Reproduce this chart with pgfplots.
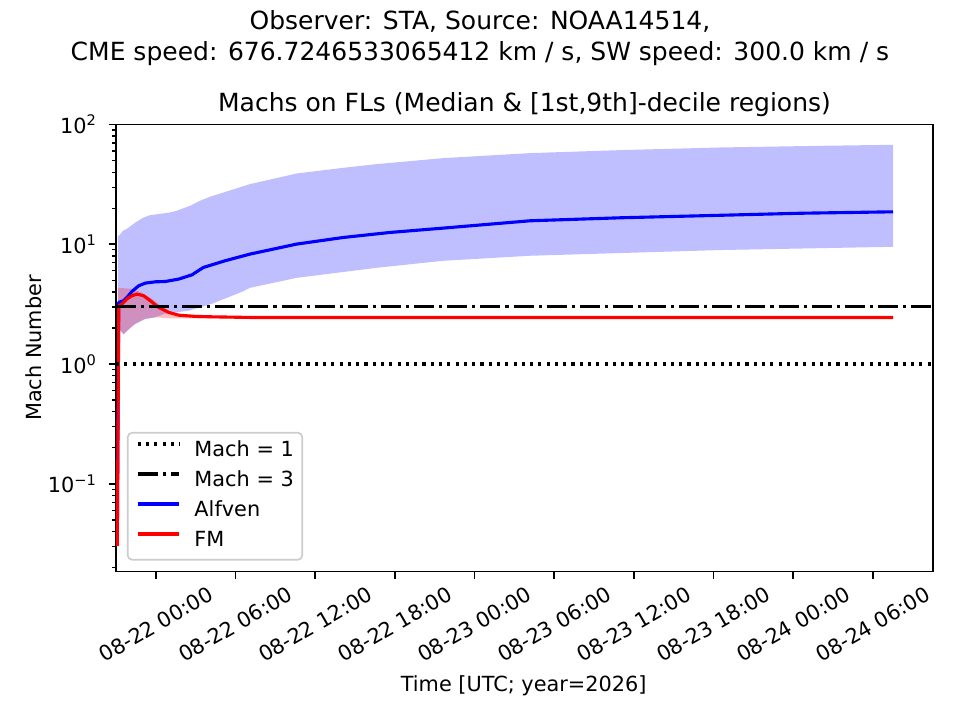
\documentclass[border=0pt]{standalone}
\usepackage{pgfplots}
\pgfplotsset{compat=1.18}
\usepackage{fontspec}
\setmainfont{DejaVu Sans}
\definecolor{mplblue}{RGB}{0,0,255}
\definecolor{mplred}{RGB}{255,0,0}
\begin{document}
\begin{tikzpicture}
\path[use as bounding box] (-55.68pt,-71.28pt) rectangle (405.12pt,274.32pt);
\begin{axis}[
  at={(0pt,0pt)}, anchor=south west,
  scale only axis, width=392.16pt, height=214.56pt,
  ymode=log, log basis y=10,
  xmin=-3.01, xmax=58.52, ymin=0.01854, ymax=100,
  axis line style={line width=0.8pt, black},
  tick align=outside, tick pos=left,
  major tick length=3.5pt, minor tick length=2pt,
  tick style={black, line width=0.8pt},
  minor tick style={black, line width=0.6pt},
  xtick={0,6,12,18,24,30,36,42,48,54},
  xticklabels={08-22 00:00,08-22 06:00,08-22 12:00,08-22 18:00,08-23 00:00,08-23 06:00,08-23 12:00,08-23 18:00,08-24 00:00,08-24 06:00},
  xticklabel style={font=\fontsize{10}{12}\selectfont, yshift=-21.9pt, rotate=30, anchor=center, inner sep=0pt},
  minor xtick={},
  ytick={0.1,1,10,100},
  yticklabels={10\textsuperscript{−1},10\textsuperscript{0},10\textsuperscript{1},10\textsuperscript{2}},
  minor ytick={0.02,0.03,0.04,0.05,0.06,0.07,0.08,0.09,0.2,0.3,0.4,0.5,0.6,0.7,0.8,0.9,2,3,4,5,6,7,8,9,20,30,40,50,60,70,80,90},
  yticklabel style={font=\fontsize{10}{12}\selectfont, anchor=east, inner sep=0pt, xshift=-5.5pt},
  legend image code/.code={\draw[#1] (0pt,3.5pt) -- (20pt,3.5pt);},
  legend cell align=left,
  legend style={
    at={(axis description cs:0.01346,0.0246)}, anchor=south west,
    draw=black!20, line width=0.8pt, rounded corners=2pt,
    fill=white, fill opacity=0.8, text opacity=1,
    font=\fontsize{10}{12}\selectfont,
    inner xsep=4pt, inner ysep=4pt,
    row sep=4.7pt, column sep=6.5pt,
    nodes={inner sep=0pt, text height=7.5pt, text depth=2.2pt}
  },
  clip=true,
]
% Alfven decile band
\addplot[forget plot, draw=none, fill=mplblue, fill opacity=0.25] coordinates {
(-2.862,11.55) (-2.485,12.96) (-2.184,13.47) (-1.582,15.12) (-0.979,16.64) (-0.452,17.5)
(1.054,18.43) (1.559,19.04) (2.561,20.96) (3.314,23.07) (4.067,24.92) (5.324,27.58)
(7.079,31.8) (9.090,35.7) (10.596,39.0) (14.106,43.5) (16.621,46.7) (21.636,52.4)
(28.171,57.7) (34.949,61.1) (42.480,64.3) (50.011,66.4) (55.508,67.7)
(55.508,9.53) (42.480,8.95) (28.171,8.02) (21.614,7.28) (16.644,6.37) (10.619,5.25)
(7.079,4.33) (6.477,4.01) (4.217,3.19) (2.485,2.79) (0.678,2.63) (-0.075,2.45)
(-0.828,2.37) (-1.582,2.15) (-2.034,1.95) (-2.433,1.77) (-2.862,2.0)
} -- cycle;
% FM decile band
\addplot[forget plot, draw=none, fill=mplred, fill opacity=0.25] coordinates {
(-2.862,4.33) (-1.807,4.25) (-1.054,3.94) (-0.301,3.51) (0.452,3.01) (1.431,2.63)
(2.561,2.53) (4.217,2.51) (55.508,2.51)
(55.508,2.41) (1.054,2.41) (-0.075,2.46) (-0.828,2.39) (-1.582,2.17) (-2.034,1.97)
(-2.433,1.78) (-2.862,2.02)
} -- cycle;
% Alfven median
\addplot[forget plot, mplblue, line width=1.5pt, line join=round] coordinates {
(-2.914,0.0304) (-2.809,3.27) (-2.433,3.38) (-2.184,3.60) (-1.807,4.04) (-1.303,4.50)
(-0.806,4.74) (-0.053,4.86) (0.700,4.89) (1.710,5.12) (2.711,5.56) (3.562,6.40)
(5.196,7.28) (7.079,8.28) (10.60,10.04) (14.11,11.40) (17.62,12.55) (21.64,13.65)
(28.17,15.71) (34.95,16.64) (42.48,17.46) (48.5,18.16) (55.508,18.67)
};
% FM median
\addplot[forget plot, mplred, line width=1.5pt, line join=round] coordinates {
(-2.914,0.0304) (-2.80,3.07) (-2.561,3.17) (-2.184,3.49) (-1.807,3.72) (-1.431,3.84)
(-0.926,3.72) (-0.429,3.38) (0.203,2.97) (0.956,2.70) (1.710,2.56) (2.960,2.50)
(4.217,2.48) (7.08,2.45) (55.508,2.45)
};
% Mach = 1 and Mach = 3
\addplot[forget plot, black, line width=1.5pt, dash pattern=on 1.5pt off 2.475pt] coordinates {(-3.01,1) (58.52,1)};
\addplot[forget plot, black, line width=1.5pt, dash pattern=on 9.6pt off 2.4pt on 1.5pt off 2.4pt] coordinates {(-3.01,3) (58.52,3)};
\addlegendimage{black, line width=1.5pt, dash pattern=on 1.5pt off 2.475pt}
\addlegendentry{Mach = 1}
\addlegendimage{black, line width=1.5pt, dash pattern=on 9.6pt off 2.4pt on 1.5pt off 2.4pt}
\addlegendentry{Mach = 3}
\addlegendimage{mplblue, line width=1.5pt}
\addlegendentry{Alfven}
\addlegendimage{mplred, line width=1.5pt}
\addlegendentry{FM}
\end{axis}
\node[anchor=base, font=\fontsize{12}{14}\selectfont] at (196.08pt,220.70pt) {Machs on FLs (Median \& [1st,9th]-decile regions)};
\node[anchor=base, font=\fontsize{12}{14}\selectfont] at (174.72pt,260.06pt) {Observer: STA, Source: NOAA14514,};
\node[anchor=base, font=\fontsize{12}{14}\selectfont] at (174.72pt,245.18pt) {CME speed: 676.7246533065412 km / s, SW speed: 300.0 km / s};
\node[anchor=base, font=\fontsize{10}{12}\selectfont] at (195.7pt,-57.7pt) {Time [UTC; year=2026]};
\node[anchor=base, rotate=90, font=\fontsize{10}{12}\selectfont] at (-35.7pt,107.28pt) {Mach Number};
\end{tikzpicture}
\end{document}
